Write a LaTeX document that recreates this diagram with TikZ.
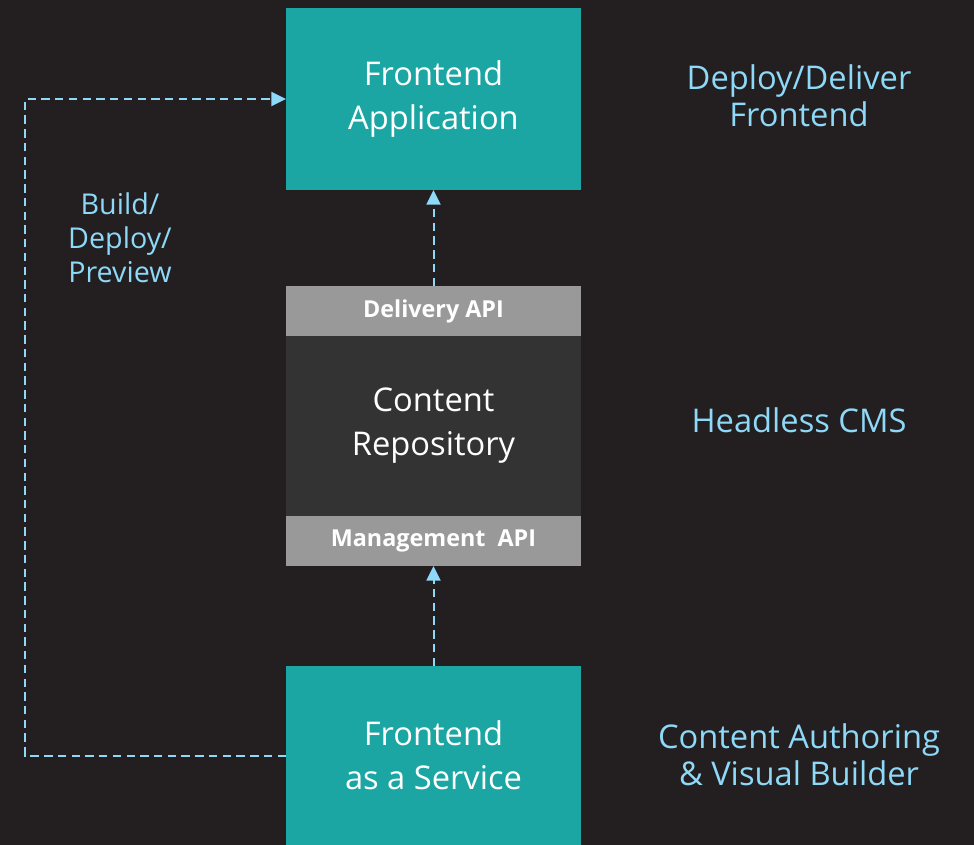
\documentclass[tikz,border=0pt]{standalone}
\usepackage{fontspec}
\setmainfont{Open Sans}
\usetikzlibrary{positioning,arrows.meta}
\definecolor{bgdark}{HTML}{231F20}
\definecolor{teal}{HTML}{1BA6A4}
\definecolor{apigray}{HTML}{999999}
\definecolor{repogray}{HTML}{333333}
\definecolor{linkblue}{HTML}{8ED8F8}

\begin{document}
\begin{tikzpicture}
    [x=0.75pt,y=-0.75pt,
     box/.style={inner sep=0pt,outer sep=0pt,minimum width=221.25pt,align=center,text=white},
     tealbox/.style={box,fill=teal,font=\fontsize{24.5pt}{33pt}\selectfont},
     api/.style={box,fill=apigray,minimum height=37.5pt,font=\bfseries\fontsize{17.5pt}{20pt}\selectfont},
     link/.style={draw=linkblue,line width=1.5pt,dash pattern=on 6.3pt off 4pt,-{Triangle[length=11pt,width=10.5pt]}},
     side/.style={text=linkblue,align=center,font=\fontsize{24.5pt}{27.75pt}\selectfont}]
    \fill[bgdark] (0,0) rectangle (974,845);
    \node[tealbox,minimum height=136.5pt] (fa) at (433.5,99) {Frontend\\Application};
    \node[api] (dapi) [below=72pt of fa] {Delivery API};
    \node[box,fill=repogray,minimum height=135pt,font=\fontsize{24.5pt}{33pt}\selectfont] (repo) [below=0pt of dapi] {Content\\Repository};
    \node[api] (mapi) [below=0pt of repo] {Management\ \ API};
    \node[tealbox,minimum height=134.25pt] (faas) [below=75pt of mapi] {Frontend\\as a Service};
    \coordinate (bend) at (25,99);
    \node[side,font=\fontsize{21.5pt}{25.5pt}\selectfont] (build) at (120,238) {Build/\\Deploy/\\Preview};
    \node[side] (deliver) at (799,96) {Deploy/Deliver\\Frontend};
    \node[side] (cms) at (799,420) {Headless CMS};
    \node[side] (authoring) at (799,755) {Content Authoring\\\&~Visual Builder};
    \draw[link] (dapi.north) -- (fa.south);
    \draw[link] (faas.north) -- (mapi.south);
    \draw[link] (faas.west) -| (bend) -- (fa.west);
\end{tikzpicture}
\end{document}
